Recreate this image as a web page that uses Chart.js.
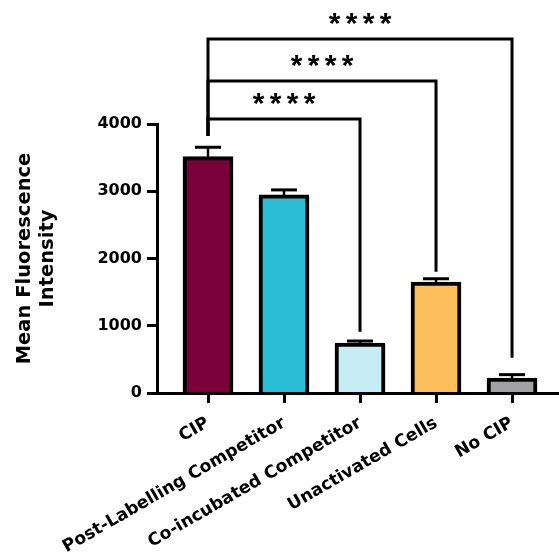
<!DOCTYPE html>
<html>
<head>
<meta charset="utf-8">
<script src="https://cdn.jsdelivr.net/npm/chart.js@4"></script>
<style>
html, body { margin: 0; padding: 0; background: #fff; }
</style>
</head>
<body>
<canvas id="mfi" width="559" height="554"></canvas>
<script>
'use strict';

var groups = ['CIP', 'Post-Labelling Competitor', 'Co-incubated Competitor', 'Unactivated Cells', 'No CIP'];
var means = [3514, 2945, 743, 1649, 223];
var errs = [140, 75, 30, 50, 50];
var barColors = ['#7a0039', '#29bdd5', '#c5edf3', '#fcbf5b', '#a2a2a5'];
var yTicks = [0, 1000, 2000, 3000, 4000];

// significance brackets (all start at CIP)
var brFrom = [0, 0, 0];
var brTo = [2, 3, 4];
var brLevel = [4075, 4639, 5263];
var brLeftEnd = [3822, 3822, 3822];
var brRightEnd = [911, 1802, 525];
var brLabel = ['****', '****', '****'];

var fontFam = '"DejaVu Sans", sans-serif';

// error bars + brackets
var extras = {
  id: 'extras',
  afterDatasetsDraw: function(chart) {
    var ctx = chart.ctx;
    var xs = chart.scales.x;
    var ys = chart.scales.y;
    ctx.save();
    ctx.strokeStyle = '#000';
    ctx.fillStyle = '#000';

    for (var i = 0; i < means.length; i++) {
      var cx = xs.getPixelForValue(i);
      var y0 = ys.getPixelForValue(means[i]);
      var y1 = ys.getPixelForValue(means[i] + errs[i]);
      ctx.lineWidth = 2.5;
      ctx.beginPath();
      ctx.moveTo(cx, y0);
      ctx.lineTo(cx, y1);
      ctx.stroke();
      ctx.lineWidth = 3;
      ctx.beginPath();
      ctx.moveTo(cx - 13, y1);
      ctx.lineTo(cx + 13, y1);
      ctx.stroke();
    }

    ctx.lineWidth = 3;
    ctx.font = 'bold 30px "Liberation Sans", Arial, sans-serif';
    ctx.textAlign = 'center';
    ctx.textBaseline = 'alphabetic';
    var pitch = 17;
    for (var b = 0; b < brLevel.length; b++) {
      var xa = xs.getPixelForValue(brFrom[b]);
      var xb = xs.getPixelForValue(brTo[b]);
      var yl = ys.getPixelForValue(brLevel[b]);
      ctx.beginPath();
      ctx.moveTo(xa, ys.getPixelForValue(brLeftEnd[b]));
      ctx.lineTo(xa, yl);
      ctx.lineTo(xb, yl);
      ctx.lineTo(xb, ys.getPixelForValue(brRightEnd[b]));
      ctx.stroke();
      var n = brLabel[b].length;
      var mid = (xa + xb) / 2;
      for (var k = 0; k < n; k++) {
        ctx.fillText(brLabel[b][k], mid + (k - (n - 1) / 2) * pitch, yl - 6);
      }
    }
    ctx.restore();
  }
};

new Chart(document.getElementById('mfi'), {
  type: 'bar',
  data: {
    datasets: [{
      data: means.map(function(m, i) { return {x: i, y: m}; }),
      backgroundColor: barColors,
      borderColor: '#000',
      borderWidth: 4,
      barThickness: 50
    }]
  },
  options: {
    responsive: false,
    animation: false,
    layout: { padding: { top: 124, left: 0, right: 0, bottom: 0 } },
    plugins: {
      legend: { display: false },
      tooltip: { enabled: false }
    },
    scales: {
      x: {
        type: 'linear',
        offset: false,
        min: -0.671,
        max: 4.618,
        bounds: 'data',
        afterBuildTicks: function(s) {
          s.ticks = groups.map(function(g, i) { return {value: i}; });
        },
        afterFit: function(s) { s.height = 161; },
        grid: { offset: false, drawOnChartArea: false, drawTicks: true, tickLength: 10, tickWidth: 3, tickColor: '#000' },
        border: { display: true, color: '#000', width: 3, z: 1 },
        ticks: {
          autoSkip: false,
          minRotation: 30,
          maxRotation: 30,
          padding: 10,
          color: '#000',
          font: { family: fontFam, size: 17.2, weight: 'bold' },
          callback: function(v) { return groups[v]; }
        }
      },
      y: {
        min: 0,
        max: 4000,
        afterBuildTicks: function(s) {
          s.ticks = yTicks.map(function(v) { return {value: v}; });
        },
        afterFit: function(s) { s.width = 157; },
        grid: { drawOnChartArea: false, drawTicks: true, tickLength: 10, tickWidth: 3, tickColor: '#000' },
        border: { display: true, color: '#000', width: 3 },
        ticks: {
          padding: 5,
          color: '#000',
          font: { family: fontFam, size: 16, weight: 'bold' },
          callback: function(v) { return String(v); }
        },
        title: {
          display: true,
          text: ['Mean Fluorescence', 'Intensity'],
          color: '#000',
          font: { family: fontFam, size: 19.5, weight: 'bold', lineHeight: 1.2 },
          padding: { top: 13, bottom: 0 }
        }
      }
    }
  },
  plugins: [extras]
});
</script>
</body>
</html>
